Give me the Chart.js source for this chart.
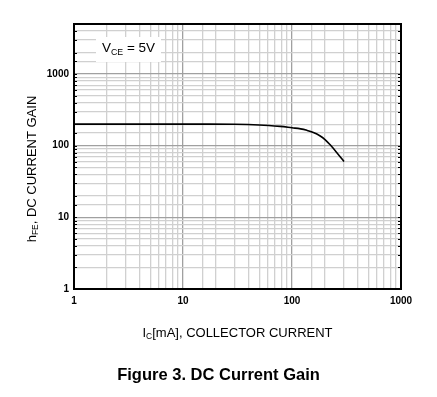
<!DOCTYPE html>
<html>
<head>
<meta charset="utf-8">
<script src="https://cdn.jsdelivr.net/npm/chart.js@4/dist/chart.umd.min.js"></script>
<style>
html,body{margin:0;padding:0;background:#fff;}
#wrap{width:437px;height:397px;position:relative;}
</style>
</head>
<body>
<div id="wrap"><canvas id="c" width="437" height="397"></canvas></div>
<script>
// Data
const collectorCurrent = [1, 10, 30, 50, 78, 100, 120, 137, 157, 180, 202, 224, 258, 300]; // mA
const dcGain = [200, 200, 199, 195, 186, 178, 172, 164, 153, 138, 121, 103, 80, 60];
const xTickLabels = [1, 10, 100, 1000];
const yTickLabels = [1, 10, 100, 1000];
const caption = "Figure 3. DC Current Gain";

const FONT = "'Liberation Sans', Arial, sans-serif";
const isDecade = v => Math.abs(Math.log10(v) - Math.round(Math.log10(v))) < 1e-9;

function drawSub(ctx, main, sub, rest, x, y, size, align) {
  ctx.font = size + "px " + FONT;
  const w1 = ctx.measureText(main).width;
  ctx.font = (size * 0.65) + "px " + FONT;
  const w2 = ctx.measureText(sub).width;
  ctx.font = size + "px " + FONT;
  const w3 = ctx.measureText(rest).width;
  const total = w1 + w2 + w3;
  let sx = align === 'center' ? x - total / 2 : x;
  ctx.textBaseline = 'middle';
  ctx.textAlign = 'left';
  ctx.fillText(main, sx, y);
  ctx.font = (size * 0.65) + "px " + FONT;
  ctx.fillText(sub, sx + w1, y + size * 0.3);
  ctx.font = size + "px " + FONT;
  ctx.fillText(rest, sx + w1 + w2, y);
}

const decor = {
  id: 'decor',
  beforeDatasetsDraw(chart) {
    const ctx = chart.ctx;
    ctx.save();
    ctx.fillStyle = '#fff';
    ctx.fillRect(96, 37, 65, 25);
    ctx.fillStyle = '#000';
    drawSub(ctx, 'V', 'CE', ' = 5V', 128.5, 48.5, 13.5, 'center');
    ctx.restore();
  },
  afterDraw(chart) {
    const ctx = chart.ctx;
    const a = chart.chartArea;
    ctx.save();
    ctx.strokeStyle = '#000';
    ctx.lineWidth = 1;
    const ys = chart.scales.y;
    ys.ticks.forEach(t => {
      const py = Math.round(ys.getPixelForValue(t.value)) + 0.5;
      ctx.beginPath();
      ctx.moveTo(a.left, py); ctx.lineTo(a.left + 3, py);
      ctx.moveTo(a.right, py); ctx.lineTo(a.right - 3, py);
      ctx.stroke();
    });
    ctx.lineWidth = 2;
    ctx.strokeRect(a.left, a.top, a.right - a.left, a.bottom - a.top);
    ctx.fillStyle = '#000';
    drawSub(ctx, 'I', 'C', '[mA], COLLECTOR CURRENT', (a.left + a.right) / 2, 333, 13, 'center');
    ctx.save();
    ctx.translate(32, 169);
    ctx.rotate(-Math.PI / 2);
    drawSub(ctx, 'h', 'FE', ', DC CURRENT GAIN', 0, 0, 13, 'center');
    ctx.restore();
    ctx.font = "bold 16.5px " + FONT;
    ctx.textAlign = 'center';
    ctx.textBaseline = 'middle';
    ctx.fillText(caption, 218.5, 375);
    ctx.restore();
  }
};

new Chart(document.getElementById('c'), {
  type: 'line',
  data: {
    datasets: [{
      data: collectorCurrent.map((x, i) => ({x: x, y: dcGain[i]})),
      borderColor: '#000',
      borderWidth: 1.6,
      pointRadius: 0,
      fill: false,
      tension: 0.4
    }]
  },
  options: {
    responsive: false,
    animation: false,
    devicePixelRatio: 1,
    layout: {padding: {top: 24, right: 36, left: 0, bottom: 0}},
    plugins: {legend: {display: false}, tooltip: {enabled: false}},
    scales: {
      x: {
        type: 'logarithmic',
        min: 1, max: 1000,
        afterFit(s) { s.height = 108; },
        border: {display: false},
        grid: {
          color: c => (c.tick && isDecade(c.tick.value)) ? '#a0a0a0' : '#d0d0d0',
          lineWidth: 1.3,
          drawTicks: false
        },
        ticks: {
          autoSkip: false,
          maxRotation: 0,
          padding: 6,
          color: '#000',
          font: {family: FONT, size: 10, weight: 'bold'},
          callback: v => xTickLabels.includes(Number(v)) ? String(v) : ''
        }
      },
      y: {
        type: 'logarithmic',
        min: 1, max: 5000,
        afterFit(s) { s.width = 74; },
        border: {display: false},
        grid: {
          color: c => (c.tick && isDecade(c.tick.value)) ? '#a0a0a0' : '#d0d0d0',
          lineWidth: 1.3,
          drawTicks: false
        },
        ticks: {
          autoSkip: false,
          padding: 5,
          color: '#000',
          font: {family: FONT, size: 10, weight: 'bold'},
          callback: v => yTickLabels.includes(Number(v)) ? String(v) : ''
        }
      }
    }
  },
  plugins: [decor]
});
</script>
</body>
</html>
